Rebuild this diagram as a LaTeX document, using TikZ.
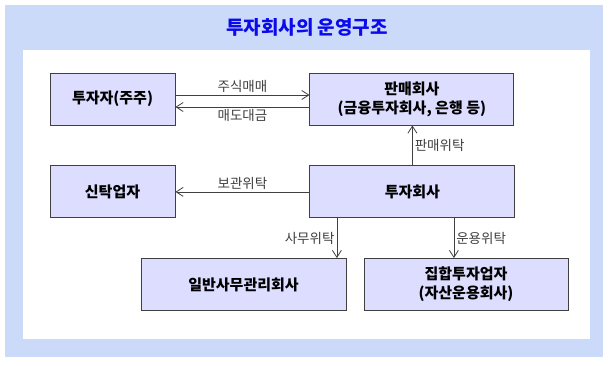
\documentclass[tikz,border=0pt]{standalone}
\usepackage{fontspec}
\setmainfont{Noto Sans CJK KR}
\usepackage{tikz}
\usetikzlibrary{positioning,arrows.meta}

\definecolor{framebg}{RGB}{204,218,250}
\definecolor{boxfill}{RGB}{221,221,255}
\definecolor{titleblue}{RGB}{10,10,235}
\definecolor{linegray}{RGB}{64,64,64}

\begin{document}
\begin{tikzpicture}[x=1pt,y=-1pt,>={Straight Barb[length=7pt,width=9pt]},
  box/.style={draw=linegray,fill=boxfill,line width=0.9pt,minimum height=52pt,
    align=center,inner sep=0pt,font=\fontsize{15}{19}\selectfont\bfseries},
  lbl/.style={font=\fontsize{13.5}{15}\selectfont,text=linegray,inner sep=2pt},
  conn/.style={->,draw=linegray,line width=0.8pt}]
\useasboundingbox (0,0) rectangle (609,365);
\fill[framebg] (5,5) rectangle (603,357);
\fill[white] (23,50) rectangle (590,339);
\node[font=\fontsize{19}{21}\selectfont\bfseries,text=titleblue] (title) at (307,27) {투자회사의 운영구조};
\node[box,minimum width=125pt] (investor) at (112.5,99) {투자자(주주)};
\node[box,minimum width=204pt,right=134pt of investor] (seller) {판매회사\\(금융투자회사, 은행 등)};
\node[box,minimum width=125pt,below=40pt of investor] (trustee) {신탁업자};
\node[box,minimum width=205pt,right=134pt of trustee] (fund) {투자회사};
\node[box,minimum width=205pt] (admin) at (243.5,284.5) {일반사무관리회사};
\node[box,minimum width=204pt] (manager) at (466,284.5) {집합투자업자\\(자산운용회사)};
\draw[conn] ([yshift=4pt]investor.east) -- node[lbl,above]{주식매매} ([yshift=4pt]investor.east -| seller.west);
\draw[conn] ([yshift=-8pt]seller.west -| investor.east) ++(134pt,0) -- node[lbl,below]{매도대금} ([yshift=-8pt]investor.east);
\draw[conn] (fund.north) -- node[lbl,right]{판매위탁} (fund.north |- seller.south);
\draw[conn] (fund.west) -- node[lbl,above]{보관위탁} (fund.west -| trustee.east);
\draw[conn] ([xshift=-75.5pt]fund.south) -- node[lbl,left]{사무위탁} ([xshift=-75.5pt]fund.south |- admin.north);
\draw[conn] ([xshift=41.5pt]fund.south) -- node[lbl,right]{운용위탁} ([xshift=41.5pt]fund.south |- manager.north);
\end{tikzpicture}
\end{document}
